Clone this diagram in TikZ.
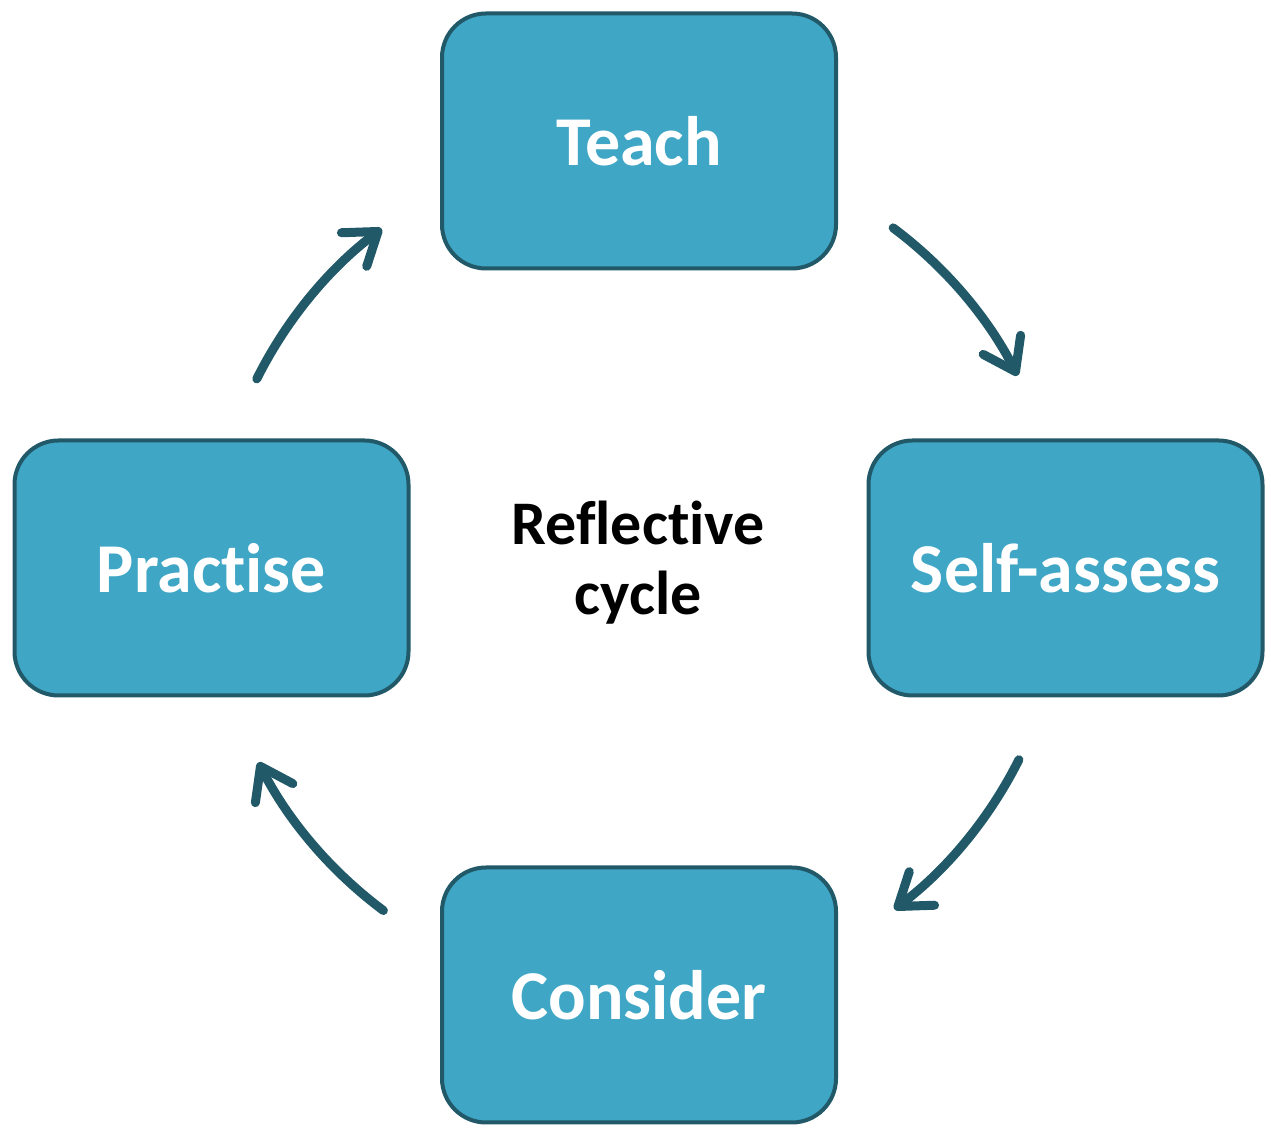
\documentclass[tikz,border=0pt]{standalone}
\usepackage{fontspec}
\setmainfont{Carlito}[Ligatures=NoCommon]
\usetikzlibrary{arrows.meta}
\definecolor{boxfill}{RGB}{63,166,197}
\definecolor{boxline}{RGB}{33,89,104}
\tikzset{>={Straight Barb[length=15pt,width=21pt,line cap=round,line join=round]}}
\tikzset{stage/.style={draw=boxline,line width=2pt,fill=boxfill,rounded corners=22pt,
    minimum width=197pt,minimum height=127.5pt,text=white,
    font=\fontsize{35}{40}\selectfont\bfseries},
  cyclearrow/.style={->,draw=boxline,line width=4.5pt,line cap=round}}

\begin{document}
\begin{tikzpicture}[x=0.5pt,y=0.5pt]
\useasboundingbox (0,0) rectangle (1271,1135);
\node[stage] (teach) at (639,994) {Teach};
\node[stage] (selfassess) at (1065.5,567) {Self-assess};
\node[stage] (consider) at (639,140) {Consider};
\node[stage] (practise) at (211.5,567) {Practise};
\node[align=center,font=\fontsize{31}{35}\selectfont\bfseries] (centre) at (638,572) {Reflective\\cycle};
\coordinate (hub) at (638,566);
\draw[cyclearrow] ([shift={(53.2:426)}]hub) arc[start angle=53.2,end angle=27,radius=426];
\draw[cyclearrow] ([shift={(-26.6:426)}]hub) arc[start angle=-26.6,end angle=-53,radius=426];
\draw[cyclearrow] ([shift={(-126.7:426)}]hub) arc[start angle=-126.7,end angle=-153,radius=426];
\draw[cyclearrow] ([shift={(153.5:426)}]hub) arc[start angle=153.5,end angle=127,radius=426];
\end{tikzpicture}
\end{document}
